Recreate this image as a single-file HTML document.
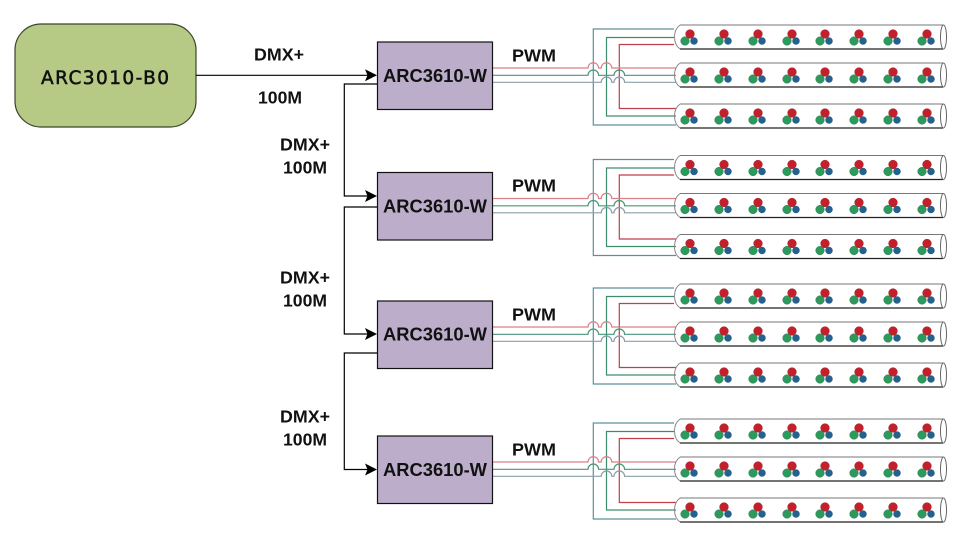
<!DOCTYPE html>
<html><head><meta charset="utf-8"><style>
html,body{margin:0;padding:0;background:#fff}
svg{display:block}
text{font-family:"Liberation Sans",sans-serif;font-weight:bold;fill:#111;text-anchor:middle}
</style></head><body>
<svg width="974" height="545" viewBox="0 0 974 545" xmlns="http://www.w3.org/2000/svg">
<defs>
<g id="led">
<circle cx="16" cy="9" r="4.4" fill="#c4202c" stroke="#9a1a22" stroke-width=".4"/>
<circle cx="11" cy="16" r="4.3" fill="#2c9a5c" stroke="#1d6a40" stroke-width=".4"/>
<circle cx="20" cy="16" r="3.5" fill="#23628f" stroke="#184a70" stroke-width=".4"/>
</g>
<g id="tube">
<path d="M680 0H943" fill="none" stroke="#777" stroke-width="1.1"/>
<path d="M680 24H943" fill="none" stroke="#222" stroke-width="1.2"/>
<path d="M680 0Q674.5 4 674.5 12Q674.5 20 680 24" fill="none" stroke="#888" stroke-width="1"/>
<ellipse cx="943.5" cy="12" rx="3" ry="12" fill="#fff" stroke="#666" stroke-width="1"/>
<use href="#led" x="674" y="0"/><use href="#led" x="708" y="0"/><use href="#led" x="742" y="0"/><use href="#led" x="776" y="0"/>
<use href="#led" x="809" y="0"/><use href="#led" x="843" y="0"/><use href="#led" x="877" y="0"/><use href="#led" x="911" y="0"/>
</g>
<g id="grp" fill="none" stroke-width="1.2">
<path d="M674 29H593.3V125H676" stroke="#5f8f9c"/>
<path d="M674 37.5H606.5V116H676" stroke="#3d8d6c"/>
<path d="M674 44.5H619.3V108.5H676" stroke="#bf3f4a"/>
<path d="M493 68H588A5.3 5.3 0 0 1 598.6 68H601.2A5.3 5.3 0 0 1 611.8 68H676" stroke="#dc8088"/>
<path d="M493 75.3H588A5.3 5.3 0 0 1 598.6 75.3H614A5.3 5.3 0 0 1 624.6 75.3H676" stroke="#4a9678"/>
<path d="M493 82.3H601.2A5.3 5.3 0 0 1 611.8 82.3H614A5.3 5.3 0 0 1 624.6 82.3H676" stroke="#8a9eaa"/>
<use href="#tube" y="25"/>
<use href="#tube" y="63"/>
<use href="#tube" y="104"/>
<rect x="377.5" y="42" width="115" height="67.5" fill="#bcaecb" stroke="#111" stroke-width="1.2"/>
</g>
<path id="arr" d="M0 0L-12 -6L-9.5 0L-12 6Z" fill="#000"/>
</defs>
<rect width="974" height="545" fill="#fff"/>

<use href="#grp"/>
<use href="#grp" y="130.5"/>
<use href="#grp" y="259"/>
<use href="#grp" y="394"/>

<rect x="15" y="24" width="181" height="103" rx="26" ry="26" fill="#b6ca86" stroke="#39452a" stroke-width="1.2"/>
<path d="M196 75.3H370" stroke="#000" stroke-width="1.2" fill="none"/>
<path d="M377 84H344.3V196H370" stroke="#000" stroke-width="1.2" fill="none"/>
<path d="M377 207H344.3V334H370" stroke="#000" stroke-width="1.2" fill="none"/>
<path d="M377 353H344.3V469.5H370" stroke="#000" stroke-width="1.2" fill="none"/>
<use href="#arr" x="377" y="75.3"/>
<use href="#arr" x="377" y="196"/>
<use href="#arr" x="377" y="334"/>
<use href="#arr" x="377" y="469.5"/>

<text x="105" y="84" style="font-family:'DejaVu Sans',sans-serif;font-weight:normal;stroke:#111;stroke-width:.55" font-size="18.5" textLength="128" lengthAdjust="spacing">ARC3010-B0</text>
<text x="279" y="60.5" font-size="17.5" textLength="50" lengthAdjust="spacingAndGlyphs">DMX+</text>
<text x="280" y="103.5" font-size="17.5" textLength="44" lengthAdjust="spacingAndGlyphs">100M</text>
<text x="305" y="150.5" font-size="17.5" textLength="50" lengthAdjust="spacingAndGlyphs">DMX+</text>
<text x="305" y="173.5" font-size="17.5" textLength="44" lengthAdjust="spacingAndGlyphs">100M</text>
<text x="305" y="283.5" font-size="17.5" textLength="50" lengthAdjust="spacingAndGlyphs">DMX+</text>
<text x="305" y="306.5" font-size="17.5" textLength="44" lengthAdjust="spacingAndGlyphs">100M</text>
<text x="305" y="422.5" font-size="17.5" textLength="50" lengthAdjust="spacingAndGlyphs">DMX+</text>
<text x="305" y="445.5" font-size="17.5" textLength="44" lengthAdjust="spacingAndGlyphs">100M</text>
<text x="534" y="61.5" font-size="17.5" textLength="44" lengthAdjust="spacingAndGlyphs">PWM</text>
<text x="534" y="191.5" font-size="17.5" textLength="44" lengthAdjust="spacingAndGlyphs">PWM</text>
<text x="534" y="320.5" font-size="17.5" textLength="44" lengthAdjust="spacingAndGlyphs">PWM</text>
<text x="534" y="455.5" font-size="17.5" textLength="44" lengthAdjust="spacingAndGlyphs">PWM</text>
<text x="435" y="82" font-size="18" textLength="104" lengthAdjust="spacingAndGlyphs">ARC3610-W</text>
<text x="435" y="212.5" font-size="18" textLength="104" lengthAdjust="spacingAndGlyphs">ARC3610-W</text>
<text x="435" y="340.5" font-size="18" textLength="104" lengthAdjust="spacingAndGlyphs">ARC3610-W</text>
<text x="435" y="476" font-size="18" textLength="104" lengthAdjust="spacingAndGlyphs">ARC3610-W</text>
</svg>
</body></html>
